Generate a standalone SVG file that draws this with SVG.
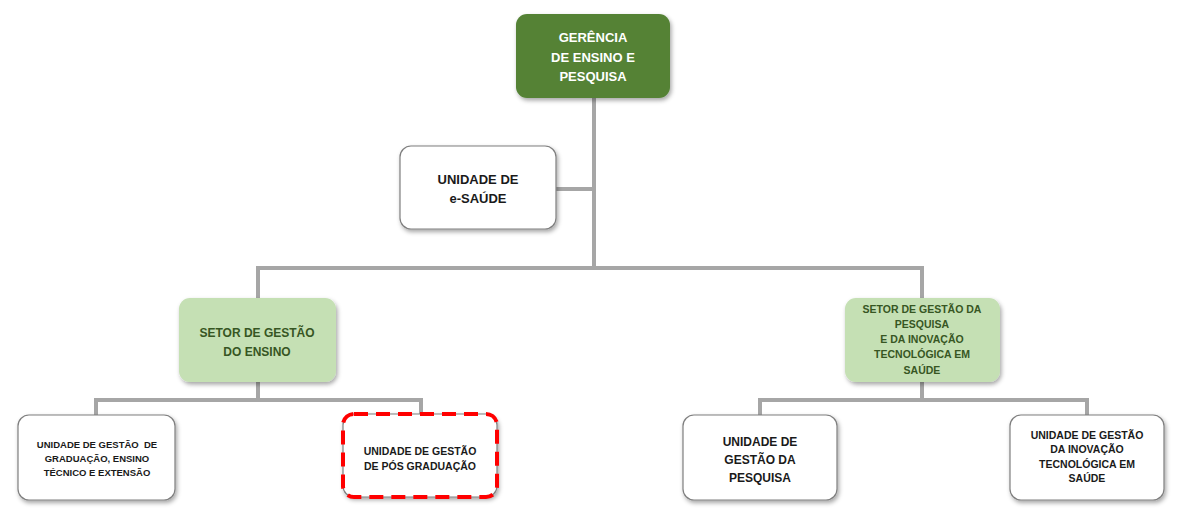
<svg xmlns="http://www.w3.org/2000/svg" width="1178" height="512" viewBox="0 0 1178 512">
<style>
.box{stroke:#7f7f7f;stroke-width:1.2}
.w{fill:#ffffff}
.lg{fill:#c5e0b4;stroke:none}
.dg{fill:#548235;stroke:none}
.t{font-family:"Liberation Sans",Arial,sans-serif;font-weight:bold;text-anchor:middle}
.tw{fill:#ffffff}
.tk{fill:#1a1a1a}
.tg{fill:#375623}
.c{stroke:#a6a6a6;stroke-width:4;fill:none}
</style>
<defs>
<filter id="sh" x="-10%" y="-10%" width="125%" height="130%">
<feDropShadow dx="1.5" dy="2.5" stdDeviation="2" flood-color="#000" flood-opacity="0.35"/>
</filter>
</defs>
<g id="connectors">
<path class="c" d="M594 97 V268"/>
<path class="c" d="M556 189 H594"/>
<path class="c" d="M258 268 H922"/>
<path class="c" d="M258 266 V298"/>
<path class="c" d="M922 266 V298"/>
<path class="c" d="M258 382 V400"/>
<path class="c" d="M96 400 H421"/>
<path class="c" d="M96 398 V415"/>
<path class="c" d="M421 398 V414"/>
<path class="c" d="M922 380 V400"/>
<path class="c" d="M760 400 H1087"/>
<path class="c" d="M760 398 V415"/>
<path class="c" d="M1087 398 V415"/>
</g>
<g id="gerencia">
<rect class="dg" x="516" y="14" width="154" height="84" rx="11" filter="url(#sh)"/>
<text class="t tw" font-size="13"><tspan x="593" y="42">GERÊNCIA</tspan><tspan x="593" y="62">DE ENSINO E</tspan><tspan x="593" y="81">PESQUISA</tspan></text>
</g>
<g id="esaude">
<rect class="box w" x="400" y="146" width="156" height="83" rx="11" filter="url(#sh)"/>
<text class="t tk" font-size="13"><tspan x="478" y="184">UNIDADE DE</tspan><tspan x="478" y="203">e-SAÚDE</tspan></text>
</g>
<g id="setor-ensino">
<rect class="lg" x="179" y="298" width="157" height="84" rx="11" filter="url(#sh)"/>
<text class="t tg" font-size="12"><tspan x="257" y="337">SETOR DE GESTÃO</tspan><tspan x="257" y="356">DO ENSINO</tspan></text>
</g>
<g id="setor-pesquisa">
<rect class="lg" x="845" y="298" width="155" height="84" rx="11" filter="url(#sh)"/>
<text class="t tg" font-size="10.5"><tspan x="922" y="313">SETOR DE GESTÃO DA</tspan><tspan x="922" y="328">PESQUISA</tspan><tspan x="922" y="343">E DA INOVAÇÃO</tspan><tspan x="922" y="358">TECNOLÓGICA EM</tspan><tspan x="922" y="374">SAÚDE</tspan></text>
</g>
<g id="unidade-graduacao">
<rect class="box w" x="18" y="415" width="157" height="85" rx="11" filter="url(#sh)"/>
<text class="t tk" font-size="9.5"><tspan x="97" y="448">UNIDADE DE GESTÃO&#160; DE</tspan><tspan x="97" y="462">GRADUAÇÃO, ENSINO</tspan><tspan x="97" y="476">TÉCNICO E EXTENSÃO</tspan></text>
</g>
<g id="unidade-pos">
<rect x="343" y="414" width="154" height="83" rx="11" fill="#ffffff" stroke="#7f7f7f" stroke-width="1.2" filter="url(#sh)"/>
<rect x="343" y="414" width="154" height="83" rx="11" fill="none" stroke="#ff0000" stroke-width="4" stroke-dasharray="14 8"/>
<text class="t tk" font-size="10.5"><tspan x="420" y="455">UNIDADE DE GESTÃO</tspan><tspan x="420" y="470">DE PÓS GRADUAÇÃO</tspan></text>
</g>
<g id="unidade-pesquisa">
<rect class="box w" x="683" y="415" width="154" height="85" rx="11" filter="url(#sh)"/>
<text class="t tk" font-size="12"><tspan x="760" y="446">UNIDADE DE</tspan><tspan x="760" y="464">GESTÃO DA</tspan><tspan x="760" y="482">PESQUISA</tspan></text>
</g>
<g id="unidade-inovacao">
<rect class="box w" x="1010" y="415" width="154" height="85" rx="11" filter="url(#sh)"/>
<text class="t tk" font-size="10.5"><tspan x="1087" y="439">UNIDADE DE GESTÃO</tspan><tspan x="1087" y="453">DA INOVAÇÃO</tspan><tspan x="1087" y="468">TECNOLÓGICA EM</tspan><tspan x="1087" y="482">SAÚDE</tspan></text>
</g>
</svg>
